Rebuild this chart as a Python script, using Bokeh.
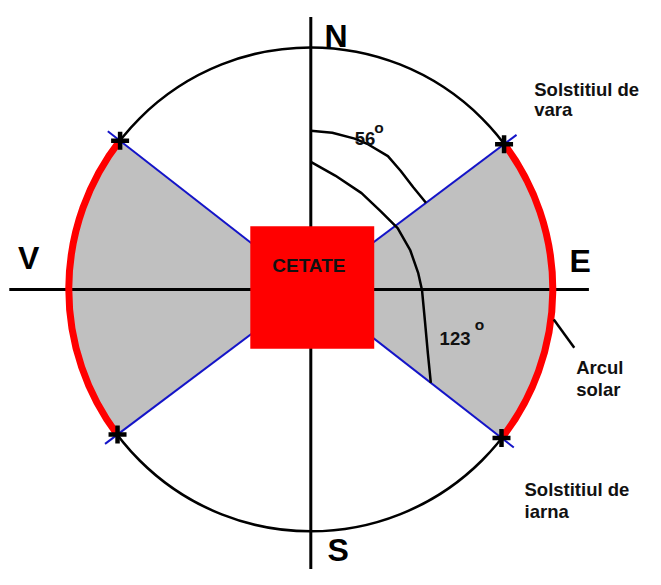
import math
from bokeh.plotting import figure
from bokeh.models import Range1d
from bokeh.core.properties import value
from bokeh.embed import file_html
from bokeh.resources import INLINE

# ---- data (diagram geometry, pixel-like units centred on the horizon circle) ----
horizon_radius = 248
ray_length = 264
sunrise_azimuth = [53, 128]      # summer, winter solstice (east)
sunset_azimuth = [308, 233]      # summer, winter solstice (west)
angle_labels = ["56", "123"]

cardinal_labels = ["N", "S", "V", "E"]
cardinal_x = [14, 17, -300, 265]
cardinal_y = [261, -268, 32, 29]

cetate_label = "CETATE"
cetate_size = 127

# hand-drawn azimuth arcs
arc56_x = [0, 22, 45, 59, 79, 92, 105, 118]
arc56_y = [163, 161, 155, 149, 137, 122, 105, 89]
arc123_x = [0, 25, 52, 72, 89, 102, 110, 114, 117, 120, 123]
arc123_y = [131, 117, 99, 80, 63, 40, 17, -1, -33, -66, -96]

note_lines = ["Solstitiul de", "vara", "Solstitiul de", "iarna", "Arcul", "solar"]
note_x = [229, 229, 219, 219, 272, 272]
note_y = [205, 185, -206, -228, -80, -103]


def math_angle(az):
    return math.radians(90 - az)


FONT = value("Liberation Sans")

p = figure(width=645, height=569, output_backend="svg", toolbar_location=None,
           x_range=Range1d(-318, 343), y_range=Range1d(-288, 297),
           x_axis_type=None, y_axis_type=None, min_border=0)
p.outline_line_color = None
p.background_fill_color = "white"

rise = [math_angle(a) for a in sunrise_azimuth]
sets = [math_angle(a) for a in sunset_azimuth]

# gray sectors
p.wedge(x=[0, 0], y=[0, 0], radius=horizon_radius,
        start_angle=[rise[1], sets[0] + 2 * math.pi],
        end_angle=[rise[0], sets[1] + 2 * math.pi],
        fill_color="#c0c0c0", line_color=None)

# cardinal axes
p.segment(x0=[-309, 0], y0=[0, 280], x1=[285, 0], y1=[0, -290],
          line_color="black", line_width=3)

# horizon circle
p.circle(x=[0], y=[0], radius=horizon_radius, fill_color=None,
         line_color="black", line_width=2.5)

# solar arcs (red)
p.arc(x=[0, 0], y=[0, 0], radius=horizon_radius,
      start_angle=[rise[1], sets[0] + 2 * math.pi],
      end_angle=[rise[0], sets[1] + 2 * math.pi],
      line_color="#ff0000", line_width=7)

# blue rays
all_angles = rise + sets
p.segment(x0=[0] * 4, y0=[0] * 4,
          x1=[ray_length * math.cos(a) for a in all_angles],
          y1=[ray_length * math.sin(a) for a in all_angles],
          line_color="#1414c8", line_width=2)

# citadel
p.rect(x=[1.5], y=[2], width=cetate_size, height=cetate_size - 1,
       fill_color="#ff0000", line_color=None)
p.text(x=[-2], y=[25], text=[cetate_label], text_font=FONT, text_font_style="bold",
       text_font_size="19px", text_align="center", text_baseline="middle",
       text_color="#111111")

# azimuth arcs
p.line(arc56_x, arc56_y, line_color="black", line_width=2.5, line_join="round")
p.line(arc123_x, arc123_y, line_color="black", line_width=2.5, line_join="round")

# solstice markers
p.scatter(x=[horizon_radius * math.cos(a) for a in all_angles],
          y=[horizon_radius * math.sin(a) for a in all_angles],
          marker="cross", size=18, line_width=4.5, line_color="black")

# pointer for "Arcul solar"
p.segment(x0=[249], y0=[-31], x1=[270], y1=[-60], line_color="black", line_width=2.5)

# cardinal letters
p.text(x=cardinal_x, y=cardinal_y, text=cardinal_labels, text_font=FONT,
       text_font_style="bold", text_font_size="32px", text_baseline="alphabetic",
       text_color="black")

# angle labels
p.text(x=[45, 132], y=[155, -51], text=angle_labels, text_font=FONT,
       text_font_style="bold", text_font_size="18.5px", text_baseline="alphabetic",
       text_color="#111111")
p.text(x=[65, 168], y=[166, -36], text=["o", "o"], text_font=FONT,
       text_font_style="bold", text_font_size="15.5px", text_baseline="alphabetic",
       text_color="#111111")

# notes
p.text(x=note_x, y=note_y, text=note_lines, text_font=FONT, text_font_style="bold",
       text_font_size="18.5px", text_baseline="alphabetic", text_color="#111111")

open("out.html", "w").write(file_html(p, INLINE))
